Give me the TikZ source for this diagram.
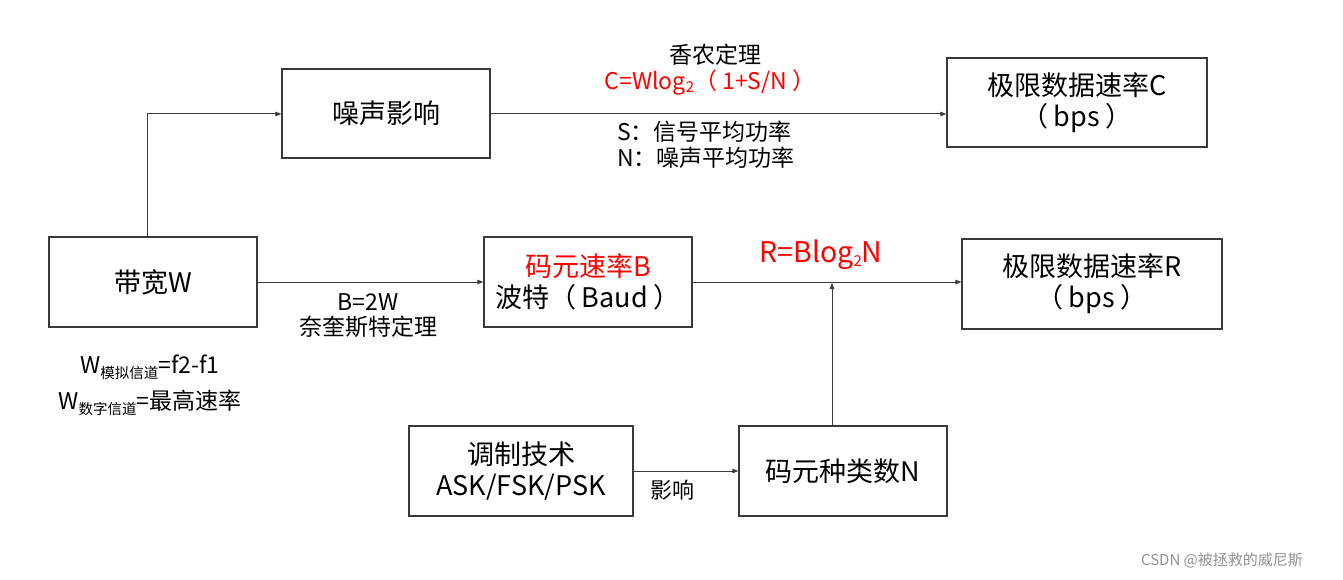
\documentclass[tikz,border=0pt]{standalone}
\usepackage{fontspec}
\setmainfont{Noto Sans CJK SC}
\usetikzlibrary{arrows.meta}
\definecolor{linegray}{HTML}{3A3A3A}
\newcommand{\sbig}{\fontsize{27}{31}\selectfont}
\newcommand{\smid}{\fontsize{23}{27}\selectfont}
\newcommand{\ssub}[1]{\raisebox{-0.22em}{\fontsize{14.5}{14.5}\selectfont #1}}
\newcommand{\nsub}[1]{\raisebox{-0.12em}{\fontsize{15}{15}\selectfont #1}}
\newcommand{\ps}{\hspace{0.22em}}
\tikzset{
  box/.style={draw=linegray, line width=1.3pt, inner sep=0pt, align=center, font=\sbig, text=black},
  conn/.style={draw=linegray, line width=1pt, -{Triangle[length=6pt,width=4.5pt]}},
  lbl/.style={inner sep=0pt, align=center, font=\smid, text=black},
  redlbl/.style={lbl, text=red}
}
\begin{document}
\begin{tikzpicture}[x=1pt,y=-1pt]
\useasboundingbox (0,0) rectangle (1343,580);
\fill[white] (0,0) rectangle (1343,580);
% boxes
\node[box, minimum width=208pt, minimum height=89pt] (noise) at (386,113.5) {噪声影响};
\node[box, minimum width=260pt, minimum height=89pt] (C) at (1077,102.5) {极限数据速率C\\（\ps bps\ps）};
\node[box, minimum width=208pt, minimum height=90pt] (W) at (153,282) {带宽W};
\node[box, minimum width=208pt, minimum height=90pt] (B) at (588,282) {{\color{red}码元速率B}\\波特（\ps Baud\ps）};
\node[box, minimum width=260pt, minimum height=90pt] (R) at (1092,284) {极限数据速率R\\（\ps bps\ps）};
\node[box, minimum width=224pt, minimum height=90pt] (mod) at (521,471) {调制技术\\ASK/FSK/PSK};
\node[box, minimum width=208pt, minimum height=90pt] (N) at (843,471) {码元种类数N};
% connectors
\coordinate (j1) at (147,114);
\coordinate (j2) at (832,283);
\draw[conn] (W.north -| j1) -- (j1) -- (noise.west |- j1);
\draw[conn] (noise.east |- j1) -- (C.west |- j1);
\draw[conn] (W.east) -- (B.west);
\draw[conn] (B.east) -- (R.west |- B.east);
\draw[conn] (N.north -| j2) -- (j2);
\draw[conn] (mod.east) -- (N.west);
% labels
\node[lbl] (shannon) at (715,55) {香农定理};
\node[redlbl] (cform) at (710,83) {C=Wlog\nsub{2}（\ps 1+S/N\ps）};
\node[lbl, anchor=west] (sdef) at (617,132) {S：信号平均功率};
\node[lbl, anchor=west] (ndef) at (617,158) {N：噪声平均功率};
\node[lbl] (nyq) at (368,315.5) {B=2W\\[-2pt]奈奎斯特定理};
\node[redlbl, font=\fontsize{28.5}{32}\selectfont] (rform) at (821,255) {R=Blog\nsub{2}N};
\node[lbl, font=\fontsize{22}{26}\selectfont] (infl) at (672,490) {影响};
\node[lbl] (wa) at (150,367) {W\ssub{模拟信道}=f2-f1};
\node[lbl] (wd) at (150,403) {W\ssub{数字信道}=最高速率};
\node[lbl, text=gray!85, font=\fontsize{15}{15}\selectfont] (wm) at (1222,560) {CSDN @被拯救的威尼斯};
\end{tikzpicture}
\end{document}
